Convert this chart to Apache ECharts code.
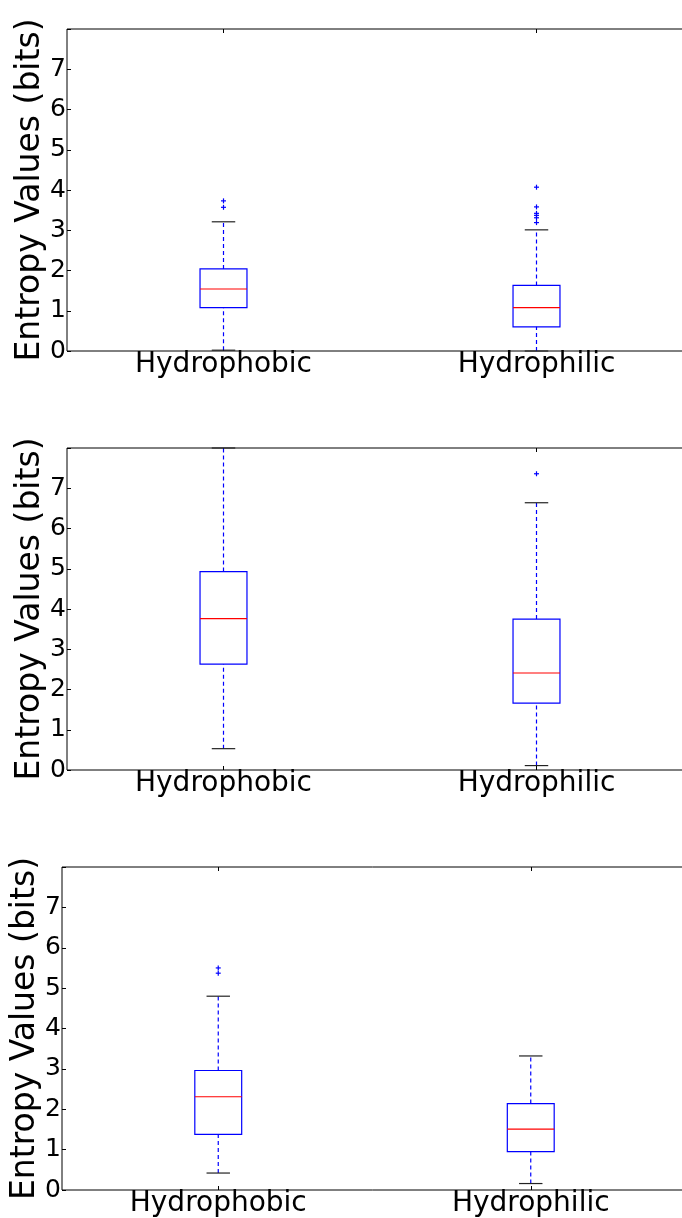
<!DOCTYPE html>
<html>
<head>
<meta charset="utf-8">
<script src="https://cdn.jsdelivr.net/npm/echarts@6/dist/echarts.min.js"></script>
<style>
  html, body { margin: 0; padding: 0; background: #fff; }
  #chart { width: 682px; height: 1218px; }
</style>
</head>
<body>
<div id="chart"></div>
<script>
// Groups on the x axis and the y tick values
const categories = ['Hydrophobic', 'Hydrophilic'];
const yTicks = [0, 1, 2, 3, 4, 5, 6, 7];
const yMax = 8;

// Box statistics per group: [lower whisker, Q1, median, Q3, upper whisker]
const panel1Boxes = [[0.02, 1.08, 1.54, 2.04, 3.21], [0.00, 0.60, 1.08, 1.63, 3.01]];
const panel1Outliers = [[3.57, 3.73], [3.19, 3.31, 3.37, 3.42, 3.58, 4.07]];

const panel2Boxes = [[0.53, 2.63, 3.76, 4.93, 8.00], [0.11, 1.66, 2.41, 3.75, 6.64]];
const panel2Outliers = [[], [7.36]];

const panel3Boxes = [[0.42, 1.38, 2.31, 2.96, 4.80], [0.16, 0.95, 1.51, 2.14, 3.32]];
const panel3Outliers = [[5.37, 5.50], []];

const panels = [
  { boxes: panel1Boxes, outliers: panel1Outliers },
  { boxes: panel2Boxes, outliers: panel2Outliers },
  { boxes: panel3Boxes, outliers: panel3Outliers }
];

const FONT = 'DejaVu Sans';
const BLUE = '#0000ff';
const RED = '#ff0000';
const BLACK = '#000000';

// the plot areas run past the right edge of the page
const grids = [
  { left: 67, top: 29, width: 626, height: 322 },
  { left: 67, top: 448, width: 626, height: 322 },
  { left: 62, top: 867, width: 625, height: 323 }
].map(g => Object.assign({
  show: true, borderColor: BLACK, borderWidth: 1, backgroundColor: 'transparent',
  outerBoundsMode: 'none', containLabel: false
}, g));

const xAxes = [];
const yAxes = [];
const series = [];

function renderBox(params, api) {
  const idx = api.value(0);
  const band = api.size([1, 0])[0];
  const halfBox = band * 0.075;
  const halfCap = band * 0.0375;
  const pLow = api.coord([idx, api.value(1)]);
  const pQ1 = api.coord([idx, api.value(2)]);
  const pMed = api.coord([idx, api.value(3)]);
  const pQ3 = api.coord([idx, api.value(4)]);
  const pHigh = api.coord([idx, api.value(5)]);
  const cx = pLow[0];
  const dashed = { stroke: BLUE, lineWidth: 1.2, lineDash: [4, 3], fill: null };
  const capStyle = { stroke: '#222', lineWidth: 1.2 };
  return {
    type: 'group',
    children: [
      { type: 'line', shape: { x1: cx, y1: pQ3[1], x2: cx, y2: pHigh[1] }, style: dashed },
      { type: 'line', shape: { x1: cx, y1: pLow[1], x2: cx, y2: pQ1[1] }, style: dashed },
      { type: 'line', shape: { x1: cx - halfCap, y1: pHigh[1], x2: cx + halfCap, y2: pHigh[1] }, style: capStyle },
      { type: 'line', shape: { x1: cx - halfCap, y1: pLow[1], x2: cx + halfCap, y2: pLow[1] }, style: capStyle },
      { type: 'rect', shape: { x: cx - halfBox, y: pQ3[1], width: halfBox * 2, height: pQ1[1] - pQ3[1] },
        style: { stroke: BLUE, lineWidth: 1.2, fill: null } },
      { type: 'line', shape: { x1: cx - halfBox, y1: pMed[1], x2: cx + halfBox, y2: pMed[1] }, style: { stroke: RED, lineWidth: 1.2 } }
    ]
  };
}

function renderPlus(params, api) {
  const p = api.coord([api.value(0), api.value(1)]);
  const r = 2.5;
  const st = { stroke: BLUE, lineWidth: 1.2 };
  return {
    type: 'group',
    children: [
      { type: 'line', shape: { x1: p[0] - r, y1: p[1], x2: p[0] + r, y2: p[1] }, style: st },
      { type: 'line', shape: { x1: p[0], y1: p[1] - r, x2: p[0], y2: p[1] + r }, style: st }
    ]
  };
}

panels.forEach((panel, i) => {
  // bottom category axis with labels
  xAxes.push({
    type: 'category', gridIndex: i, data: categories, position: 'bottom',
    axisLine: { show: false },
    axisTick: { show: true, inside: true, alignWithLabel: true, length: 4, lineStyle: { color: BLACK } },
    axisLabel: { fontFamily: FONT, fontSize: 28, color: '#000', margin: 0 }
  });
  // top axis carrying only the tick marks
  xAxes.push({
    type: 'category', gridIndex: i, data: categories, position: 'top',
    axisLine: { show: false },
    axisTick: { show: true, inside: true, alignWithLabel: true, length: 4, lineStyle: { color: BLACK } },
    axisLabel: { show: false }
  });
  yAxes.push({
    type: 'value', gridIndex: i, min: 0, max: yMax, interval: 1,
    name: 'Entropy Values (bits)', nameLocation: 'middle', nameRotate: 90, nameGap: 20,
    nameMoveOverlap: false,
    nameTextStyle: { fontFamily: FONT, fontSize: 33, color: '#000' },
    axisLine: { show: false },
    splitLine: { show: false },
    axisTick: { show: true, inside: true, length: 4, lineStyle: { color: BLACK } },
    axisLabel: {
      fontFamily: FONT, fontSize: 25, color: '#000', margin: 1,
      formatter: v => (yTicks.indexOf(v) >= 0 ? String(v) : '')
    }
  });

  series.push({
    type: 'custom', xAxisIndex: i * 2, yAxisIndex: i,
    renderItem: renderBox,
    encode: { x: 0, y: [1, 2, 3, 4, 5] },
    data: panel.boxes.map((b, k) => [k].concat(b)),
    silent: true, z: 3
  });

  const pts = [];
  panel.outliers.forEach((list, k) => list.forEach(v => pts.push([k, v])));
  series.push({
    type: 'custom', xAxisIndex: i * 2, yAxisIndex: i,
    renderItem: renderPlus,
    encode: { x: 0, y: 1 },
    data: pts,
    silent: true, z: 4
  });
});

const chart = echarts.init(document.getElementById('chart'), null, { renderer: 'canvas' });
chart.setOption({
  animation: false,
  backgroundColor: '#ffffff',
  grid: grids,
  xAxis: xAxes,
  yAxis: yAxes,
  series: series
});
</script>
</body>
</html>
